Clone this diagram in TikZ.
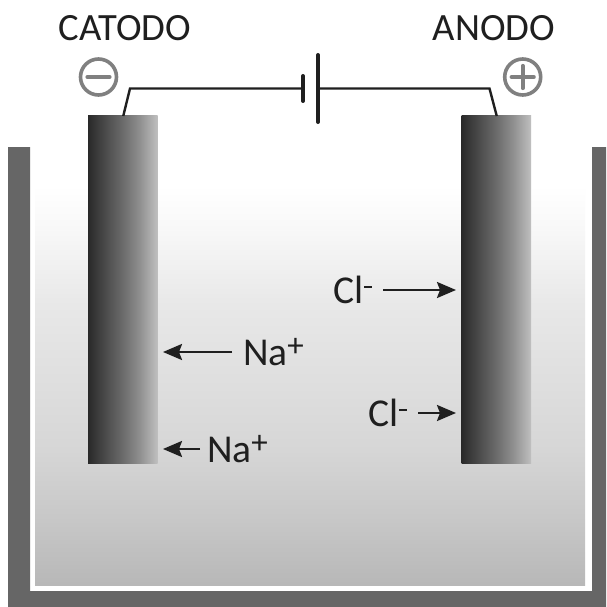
\documentclass[tikz,border=0pt]{standalone}
\usepackage{fontspec}
\setmainfont{Carlito}
\usetikzlibrary{arrows.meta}
\pgfdeclareverticalshading{liquidshade}{100bp}{rgb(0bp)=(0.72,0.72,0.72); rgb(25bp)=(0.72,0.72,0.72); rgb(33bp)=(0.78,0.78,0.78); rgb(42bp)=(0.84,0.84,0.84); rgb(60bp)=(0.91,0.91,0.91); rgb(70bp)=(0.975,0.975,0.975); rgb(75bp)=(1,1,1); rgb(100bp)=(1,1,1)}
\pgfdeclarehorizontalshading{rodshade}{100bp}{rgb(0bp)=(0.16,0.16,0.16); rgb(25bp)=(0.16,0.16,0.16); rgb(38bp)=(0.30,0.30,0.30); rgb(50bp)=(0.42,0.42,0.42); rgb(62bp)=(0.56,0.56,0.56); rgb(75bp)=(0.75,0.75,0.75); rgb(100bp)=(0.75,0.75,0.75)}
\tikzset{
  x=1pt,y=-1pt,
  tank/.style={fill=black!60,draw=none},
  rod/.style={rectangle,shading=rodshade,draw=none,minimum width=69.5pt,minimum height=347pt,inner sep=0pt,outer sep=0pt},
  wire/.style={draw=black!88,line width=2.4pt,line join=miter},
  plate/.style={draw=black!88,line width=4pt,line cap=round},
  pole/.style={circle,draw=black!50,line width=3.6pt,minimum size=36pt,inner sep=0pt,outer sep=0pt},
  polebar/.style={draw=black!50,line width=4.2pt,line cap=round},
  head/.style={font=\fontsize{38.6}{38.6}\selectfont,text=black!88,inner sep=0pt},
  ion/.style={font=\fontsize{39.5}{39.5}\selectfont,text=black!88,text height=27pt,text depth=0pt,inner ysep=0pt,inner xsep=0pt,outer ysep=0pt,outer xsep=#1},
  ion/.default=11pt,
  ionarrow/.style={draw=black!88,line width=2.4pt,shorten >=5.5pt,-{Stealth[length=19pt,width=16pt,inset=3pt]}}
}
\newcommand{\upmark}[1]{\raisebox{9pt}{\fontsize{33}{33}\selectfont #1}}
\newcommand{\upminus}{\raisebox{15.5pt}{\rule{8pt}{2.4pt}}}
\begin{document}
\begin{tikzpicture}
\useasboundingbox (0,0) rectangle (606,607);
\fill[white] (0,0) rectangle (606,607);
\shade[shading=liquidshade] (35,185) rectangle (585,585);
\fill[tank] (8,147) -- (30,147) -- (30,591) -- (592,591) -- (592,147) -- (606,147) -- (606,607) -- (8,607) -- cycle;
\node[rod] (cat) at (122.75,289.5) {};
\node[rod] (ano) at (496.25,289.5) {};
\node[head] (catl) at (125,28) {CATODO};
\node[head] (anol) at (494,28) {ANODO};
\node[pole] (neg) at (98.5,77) {};
\node[pole] (pos) at (522.7,77) {};
\draw[polebar] ([xshift=-11pt]neg.center) -- ([xshift=11pt]neg.center);
\draw[polebar] ([xshift=-11pt]pos.center) -- ([xshift=11pt]pos.center);
\draw[polebar] ([yshift=-11pt]pos.center) -- ([yshift=11pt]pos.center);
\coordinate (pa) at (303,88.5);
\coordinate (pb) at (318,88.5);
\draw[plate] (303,76) -- (303,101);
\draw[plate] (318,55) -- (318,122);
\draw[wire] (cat.north) ++(0.5,0) -- (130,88.5) -- (pa);
\draw[wire] (pb) -- (489.5,88.5) -- ([xshift=0.5pt]ano.north);
\node[ion,anchor=west] (na1) at (232,352) {Na\upmark{+}};
\node[ion=7pt,anchor=west] (na2) at (200,449) {Na\upmark{+}};
\node[ion,anchor=east] (cl1) at (383,290) {Cl\upminus};
\node[ion,anchor=east] (cl2) at (418,413) {Cl\upminus};
\draw[ionarrow] (na1.west) -- (cat.east |- na1.west);
\draw[ionarrow] (na2.west) -- (cat.east |- na2.west);
\draw[ionarrow] (cl1.east) -- (ano.west |- cl1.east);
\draw[ionarrow] (cl2.east) -- (ano.west |- cl2.east);
\end{tikzpicture}
\end{document}
